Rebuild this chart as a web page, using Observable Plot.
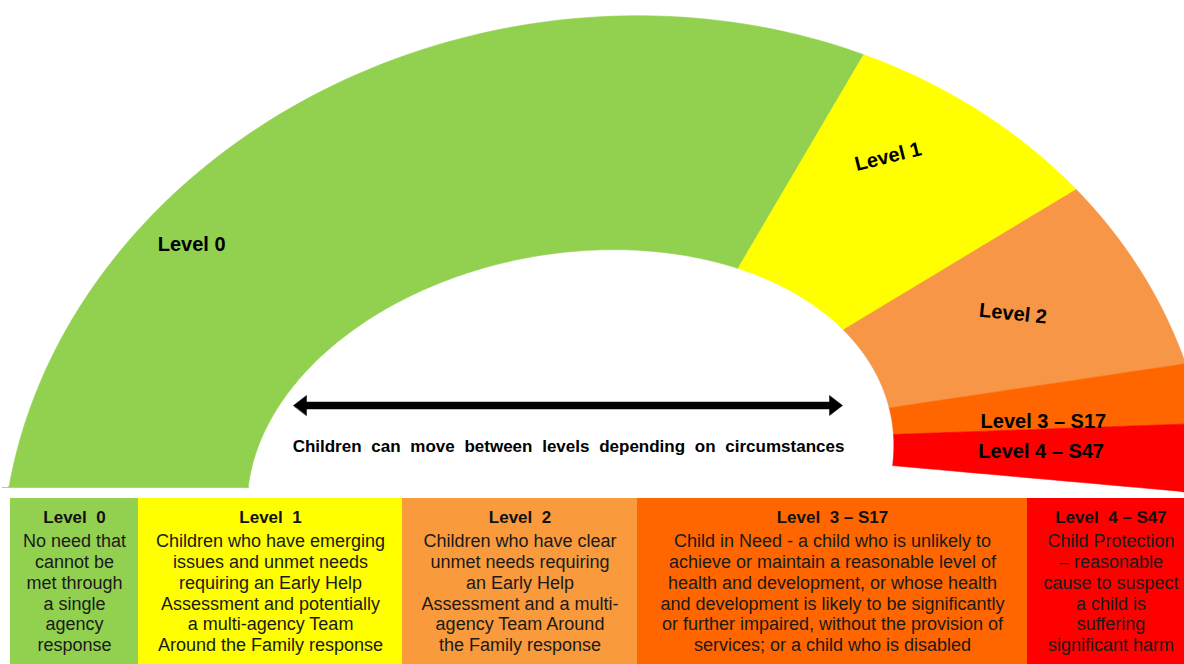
<!DOCTYPE html>
<html><head><meta charset="utf-8">
<script src="https://cdn.jsdelivr.net/npm/d3@7"></script>
<script src="https://cdn.jsdelivr.net/npm/@observablehq/plot@0.6"></script>
<style>
html,body{margin:0;padding:0;background:#fff;}
#chart svg{display:block;overflow:hidden;}
#chart svg text{white-space:pre;}
</style>
</head><body><div id="chart"></div>
<script>
// ---------------- data ----------------
const levels = ["Level 0", "Level 1", "Level 2", "Level 3 – S17", "Level 4 – S47"];
// sweep of each level along the gauge arc (degrees)
const gaugeSweep = [125, 25.8, 22.3, 6.8, 7.8];
const gaugeColors = ["#92D050", "#FFFF00", "#F79646", "#FF6600", "#FF0000"];
const tableColors = ["#92D050", "#FFFF00", "#F99A3C", "#FF6600", "#FF0000"];
const tableTitles = ["Level  0", "Level  1", "Level  2", "Level  3 – S17", "Level  4 – S47"];
const tableLines = [
  ["No need that", "cannot be", "met through", "a single", "agency", "response"],
  ["Children who have emerging", "issues and unmet needs", "requiring an Early Help", "Assessment and potentially", "a multi-agency Team", "Around the Family response"],
  ["Children who have clear", "unmet needs requiring", "an Early Help", "Assessment and a multi-", "agency Team Around", "the Family response"],
  ["Child in Need - a child who is unlikely to", "achieve or maintain a reasonable level of", "health and development, or whose health", "and development is likely to be significantly", "or further impaired, without the provision of", "services; or a child who is disabled"],
  ["Child Protection", "– reasonable", "cause to suspect", "a child is", "suffering", "significant harm"]
];
const arrowCaption = "Children can move between levels depending on circumstances";

// ---------------- layout ----------------
const layout = {
  width: 1184, height: 664,
  inner: {cx: 570, cy: 475, a: 326, b: 222},
  outer: {cx: 606, cy: 540, a: 607, b: 522},
  rot: 10, innerStart: -12, innerScale: 1.02, outerStart: -6.5, outerScale: 1,
  clipY: 487, clipYBeforeX: 600, clipX: 1184,
  // label position: fraction along the level's sweep, fraction from inner to outer edge
  labels: [
    {t: 0.595, f: 0.78, rotate: 0},
    {t: 0.66, f: 0.66, rotate: -14},
    {t: 0.52, f: 0.53, rotate: 6},
    {t: 0.17, f: 0.49, rotate: 0},
    {t: 0.55, f: 0.47, rotate: 0}
  ],
  arrow: {x1: 293, x2: 842, y: 405, shaft: 7, headLen: 13, headHalf: 10},
  caption: {x: 568, y: 446},
  table: {top: 498, bottom: 670, cols: [10, 138, 402, 637, 1027, 1194], titleY: 517, bodyTop: 532, lineH: 20.8, fontSize: 18}
};

const rad = Math.PI / 180;
function ell(e, tDeg) {
  const t = tDeg * rad, phi = layout.rot * rad;
  const u = e.a * Math.cos(t), v = e.b * Math.sin(t);
  return [e.cx + u * Math.cos(phi) - v * Math.sin(phi), e.cy - (u * Math.sin(phi) + v * Math.cos(phi))];
}
function gaugePoint(s, f) {
  const pi = ell(layout.inner, layout.innerStart + layout.innerScale * s);
  const po = ell(layout.outer, layout.outerStart + layout.outerScale * s);
  return [pi[0] + (po[0] - pi[0]) * f, pi[1] + (po[1] - pi[1]) * f];
}
function clip([x, y]) {
  if (x < layout.clipYBeforeX && y > layout.clipY) y = layout.clipY;
  return [Math.min(x, layout.clipX), y];
}

// cumulative sweep measured from the right-hand end (last level)
const segs = [];
{
  let s = 0;
  for (let i = levels.length - 1; i >= 0; --i) {
    segs[i] = {s0: s, s1: s + gaugeSweep[i]};
    s += gaugeSweep[i];
  }
}
const gaugeRows = [];
levels.forEach((lv, i) => {
  const {s0, s1} = segs[i];
  const N = 120, M = 30, pts = [];
  for (let k = 0; k <= N; ++k) pts.push(gaugePoint(s0 + (s1 - s0) * k / N, 1));
  for (let k = 1; k < M; ++k) pts.push(gaugePoint(s1, 1 - k / M));
  for (let k = 0; k <= N; ++k) pts.push(gaugePoint(s1 - (s1 - s0) * k / N, 0));
  for (let k = 1; k < M; ++k) pts.push(gaugePoint(s0, k / M));
  pts.map(clip).forEach(([x, y]) => gaugeRows.push({level: lv, color: gaugeColors[i], x, y}));
});
const labelRows = levels.map((lv, i) => {
  const L = layout.labels[i], {s0, s1} = segs[i];
  const [x, y] = gaugePoint(s0 + (s1 - s0) * L.t, L.f);
  return {level: lv, x, y, rotate: L.rotate};
});

// double-headed arrow outline
const A = layout.arrow;
const arrowRows = [
  [A.x1, A.y], [A.x1 + A.headLen, A.y - A.headHalf], [A.x1 + A.headLen, A.y - A.shaft / 2],
  [A.x2 - A.headLen, A.y - A.shaft / 2], [A.x2 - A.headLen, A.y - A.headHalf], [A.x2, A.y],
  [A.x2 - A.headLen, A.y + A.headHalf], [A.x2 - A.headLen, A.y + A.shaft / 2],
  [A.x1 + A.headLen, A.y + A.shaft / 2], [A.x1 + A.headLen, A.y + A.headHalf]
].map(([x, y]) => ({x, y}));

const T = layout.table;
const tableRows = levels.map((lv, i) => ({
  level: lv, color: tableColors[i], title: tableTitles[i], body: tableLines[i].join("\n"),
  x1: T.cols[i], x2: T.cols[i + 1], cx: (T.cols[i] + Math.min(T.cols[i + 1], layout.width + 10)) / 2
}));

const font = "'Liberation Sans', Arial, Helvetica, sans-serif";
const chart = Plot.plot({
  width: layout.width, height: layout.height, margin: 0,
  style: {fontFamily: font, background: "#fff", color: "#000"},
  x: {domain: [0, layout.width], range: [0, layout.width], axis: null},
  y: {domain: [0, layout.height], range: [0, layout.height], axis: null},
  color: {type: "identity"},
  marks: [
    Plot.line(gaugeRows, {x: "x", y: "y", z: "level", fill: "color", stroke: "color", strokeWidth: 0.6, curve: "linear-closed"}),
    Plot.text(labelRows, {x: "x", y: "y", text: "level", rotate: "rotate", fontSize: 20, fontWeight: "bold", fill: "#000", textAnchor: "middle", lineAnchor: "middle"}),
    Plot.line(arrowRows, {x: "x", y: "y", fill: "#000", stroke: "#000", strokeWidth: 0.5, curve: "linear-closed"}),
    Plot.text([arrowCaption], {x: layout.caption.x, y: layout.caption.y, text: d => d, fontSize: 17, fontWeight: "bold", fill: "#000", textAnchor: "middle", lineAnchor: "middle"}),
    Plot.rect(tableRows, {x1: "x1", x2: "x2", y1: T.top, y2: T.bottom, fill: "color"}),
    Plot.text(tableRows, {x: "cx", y: T.titleY, text: "title", fontSize: 17, fontWeight: "bold", fill: "#111", textAnchor: "middle", lineAnchor: "middle"}),
    Plot.text(tableRows, {x: "cx", y: T.bodyTop, text: "body", fontSize: T.fontSize, lineHeight: T.lineH / T.fontSize, fill: "#1a1a1a", textAnchor: "middle", lineAnchor: "top"})
  ]
});
d3.select(chart).selectAll("text").filter(function () { return this.textContent === arrowCaption; })
  .style("word-spacing", "5px");
document.getElementById("chart").appendChild(chart);
</script>
</body></html>
